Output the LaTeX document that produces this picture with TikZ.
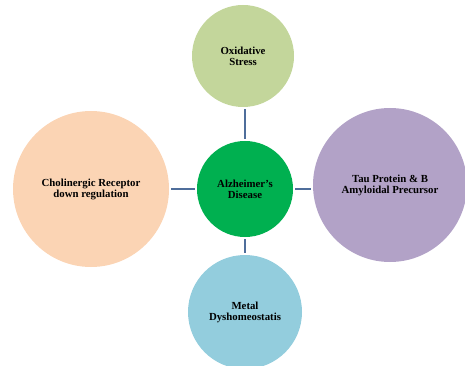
\documentclass[tikz,border=0pt]{standalone}
\usepackage{fontspec}
\setmainfont{Liberation Serif}
\usepackage{tikz}
\usepackage{xcolor}
\usetikzlibrary{positioning}

\definecolor{oxgreen}{HTML}{C3D69B}
\definecolor{cholpeach}{HTML}{FBD4B4}
\definecolor{adgreen}{HTML}{00B050}
\definecolor{taupurple}{HTML}{B2A2C7}
\definecolor{metalblue}{HTML}{93CDDD}
\definecolor{linkblue}{HTML}{4F6E9B}

\tikzset{
  factor/.style={circle, draw=none, inner sep=0pt, align=center,
    font=\bfseries\fontsize{10.8}{11}\selectfont},
  link/.style={draw=linkblue, line width=2.6pt, shorten >=2pt, shorten <=2pt}
}

\begin{document}
\begin{tikzpicture}[x=1pt, y=-1pt]
  \useasboundingbox (0,0) rectangle (465,366);

  % Centre
  \node[factor, fill=adgreen, minimum size=96pt]     (ad)    at (245,189) {Alzheimer's\\Disease};

  % Surrounding factors
  \node[factor, fill=oxgreen, minimum size=102pt]    (ox)    at (243,56)  {Oxidative\\Stress};
  \node[factor, fill=cholpeach, minimum size=156pt]  (chol)  at (91,189)  {Cholinergic Receptor\\down regulation};
  \node[factor, fill=taupurple, minimum size=154pt]  (tau)   at (390,185) {Tau Protein \& B\\Amyloidal Precursor};
  \node[factor, fill=metalblue, minimum size=114pt]  (metal) at (245,312) {Metal\\Dyshomeostatis};

  % Connectors
  \draw[link] (ad.north) -- (ad.north |- ox.south);
  \draw[link] (ad.west)  -- (ad.west -| chol.east);
  \draw[link] (ad.east)  -- (ad.east -| tau.west);
  \draw[link] (ad.south) -- (ad.south |- metal.north);
\end{tikzpicture}
\end{document}
